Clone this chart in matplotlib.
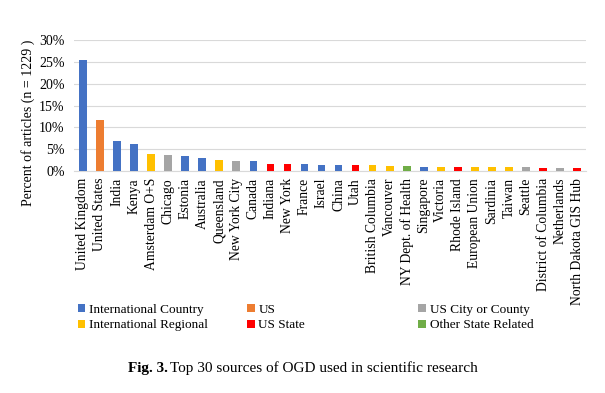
import matplotlib
matplotlib.use('Agg')
import matplotlib.pyplot as plt
from matplotlib.patches import Patch

plt.rcParams['font.family'] = ['Liberation Serif', 'DejaVu Serif']

# Data
sources = ['United Kingdom', 'United States', 'India', 'Kenya', 'Amsterdam O+S',
           'Chicago', 'Estonia', 'Australia', 'Queensland', 'New York City',
           'Canada', 'Indiana', 'New York', 'France', 'Israel', 'China', 'Utah',
           'British Columbia', 'Vancouver', 'NY Dept. of Health', 'Singapore',
           'Victoria', 'Rhode Island', 'European Union', 'Sardinia', 'Taiwan',
           'Seattle', 'District of Columbia', 'Netherlands', 'North Dakota GIS Hub']
percent = [25.4, 11.7, 6.9, 6.2, 3.8, 3.6, 3.4, 3.0, 2.6, 2.2,
           2.2, 1.6, 1.6, 1.5, 1.4, 1.4, 1.4, 1.3, 1.1, 1.1,
           1.0, 1.0, 1.0, 0.9, 0.9, 0.9, 0.8, 0.7, 0.6, 0.6]
source_type = ['IC', 'US', 'IC', 'IC', 'IR', 'CITY', 'IC', 'IC', 'IR', 'CITY',
               'IC', 'STATE', 'STATE', 'IC', 'IC', 'IC', 'STATE', 'IR', 'IR', 'OTHER',
               'IC', 'IR', 'STATE', 'IR', 'IR', 'IR', 'CITY', 'STATE', 'CITY', 'STATE']

type_labels = {'IC': 'International Country', 'US': 'US', 'CITY': 'US City or County',
               'IR': 'International Regional', 'STATE': 'US State',
               'OTHER': 'Other State Related'}
type_colors = {'IC': '#4472C4', 'US': '#ED7D31', 'CITY': '#A5A5A5',
               'IR': '#FFC000', 'STATE': '#FF0000', 'OTHER': '#70AD47'}

fig = plt.figure(figsize=(6.05, 3.93), dpi=100)
ax = fig.add_axes([0.123, 0.565, 0.845, 0.333])

x = range(len(sources))
ax.bar(x, [p / 100 for p in percent], width=0.45,
       color=[type_colors[t] for t in source_type], zorder=3)

ax.set_xlim(-0.5, len(sources) - 0.5)
ax.set_ylim(0, 0.30)
ax.set_yticks([0, 0.05, 0.10, 0.15, 0.20, 0.25, 0.30])
ax.set_yticklabels(['0%', '5%', '10%', '15%', '20%', '25%', '30%'], fontsize=10)
ax.set_xticks(list(x))
ax.set_xticklabels(sources, rotation=90, fontsize=9.8)
ax.tick_params(axis='x', length=0, pad=5)
ax.tick_params(axis='y', length=0, pad=7)
ax.grid(axis='y', color='#D9D9D9', linewidth=0.8, zorder=0)
for s in ['top', 'right', 'left']:
    ax.spines[s].set_visible(False)
ax.spines['bottom'].set_color('#D9D9D9')
ax.set_ylabel('Percent of articles (n = 1229 )', fontsize=10)
ax.yaxis.set_label_coords(-0.078, 0.37)

# Legend in three separate columns, like the original layout
columns = [(0.120, ['IC', 'IR']), (0.400, ['US', 'STATE']), (0.683, ['CITY', 'OTHER'])]
for xpos, keys in columns:
    handles = [Patch(facecolor=type_colors[k], label=type_labels[k]) for k in keys]
    fig.legend(handles=handles, loc='upper left', bbox_to_anchor=(xpos, 0.240),
               frameon=False, fontsize=9.5, handlelength=0.55, handleheight=0.55,
               handletextpad=0.3, labelspacing=0.25, borderaxespad=0)

fig.text(0.211, 0.053, 'Fig. 3.', fontsize=11, fontweight='bold')
fig.text(0.281, 0.053, 'Top 30 sources of OGD used in scientific research', fontsize=11)

fig.savefig('out.png', dpi=100)
